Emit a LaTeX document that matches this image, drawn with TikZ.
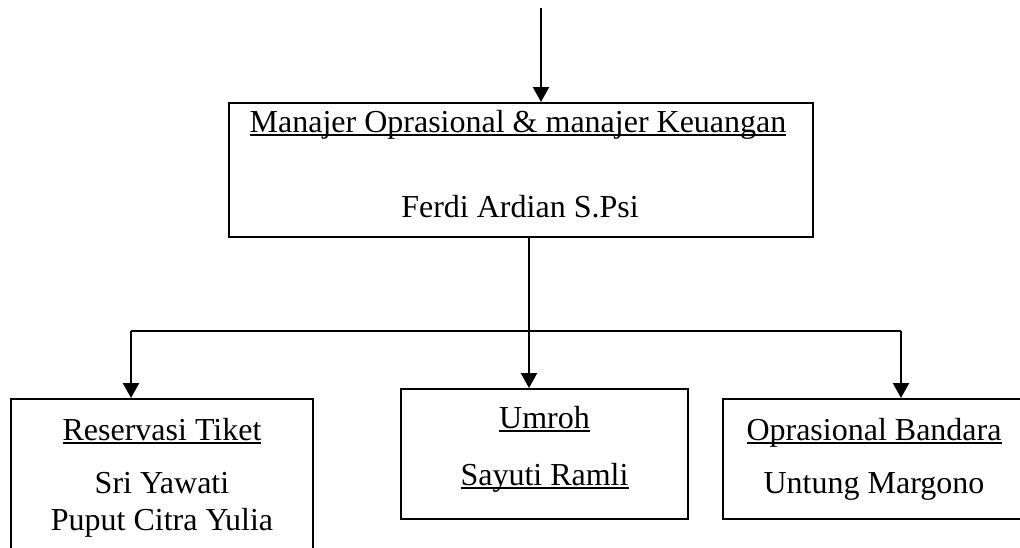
\documentclass[tikz,border=0pt]{standalone}
\usepackage{fontspec}
\setmainfont{Liberation Serif}
\usetikzlibrary{arrows.meta}
\newcommand{\garisbawah}[1]{\setbox0\hbox{#1}\rlap{\rule[-1.5pt]{\wd0}{0.6pt}}\box0}

\begin{document}
\begin{tikzpicture}[x=0.375pt,y=-0.375pt,line width=0.75pt,
        kotak/.style = {draw, rectangle, inner sep=0pt},
        teks/.style = {anchor=base, inner sep=0pt,
            font=\fontsize{12}{14}\selectfont},
        panah/.style = {-{Triangle[length=5.6pt,width=6pt]}}]

        \path[use as bounding box] (0,0) rectangle (1020,547);
        \clip (0,0) rectangle (1020,547);

        % Manajer
        \node[kotak, minimum width=219pt, minimum height=50.25pt] (manajer) at (521,170) {};
        \node[teks] (jabatan) at (518,132) {\garisbawah{Manajer Oprasional \& manajer Keuangan}};
        \node[teks] (ferdi) at (520,217) {Ferdi Ardian S.Psi};

        % Reservasi Tiket
        \node[kotak, minimum width=113.25pt, minimum height=82.5pt] (tiket) at (162,509) {};
        \node[teks] (tiketjudul) at (162,440) {\garisbawah{Reservasi Tiket}};
        \node[teks] (sri) at (162,493) {Sri Yawati};
        \node[teks] (puput) at (162,530) {Puput Citra Yulia};

        % Umroh
        \node[kotak, minimum width=107.6pt, minimum height=48.75pt] (umroh) at (544.5,454) {};
        \node[teks] (umrohjudul) at (544.5,428) {\garisbawah{Umroh}};
        \node[teks] (sayuti) at (544.5,485) {\garisbawah{Sayuti Ramli}};

        % Oprasional Bandara
        \node[kotak, minimum width=113.6pt, minimum height=45pt] (bandara) at (874.5,459) {};
        \node[teks] (bandarajudul) at (874,440) {\garisbawah{Oprasional Bandara}};
        \node[teks] (untung) at (874,493) {Untung Margono};

        % Garis penghubung
        \coordinate (mulai) at (541,8);
        \coordinate (cabang) at (529,331);
        \coordinate (kiri) at (131,331);
        \coordinate (kanan) at (901,331);

        \draw[panah] (mulai) -- (mulai |- manajer.north);
        \draw (cabang |- manajer.south) -- (cabang);
        \draw (kiri) -- (kanan);
        \draw[panah] (kiri) -- (kiri |- tiket.north);
        \draw[panah] (cabang) -- (cabang |- umroh.north);
        \draw[panah] (kanan) -- (kanan |- bandara.north);
    \end{tikzpicture}
\end{document}
